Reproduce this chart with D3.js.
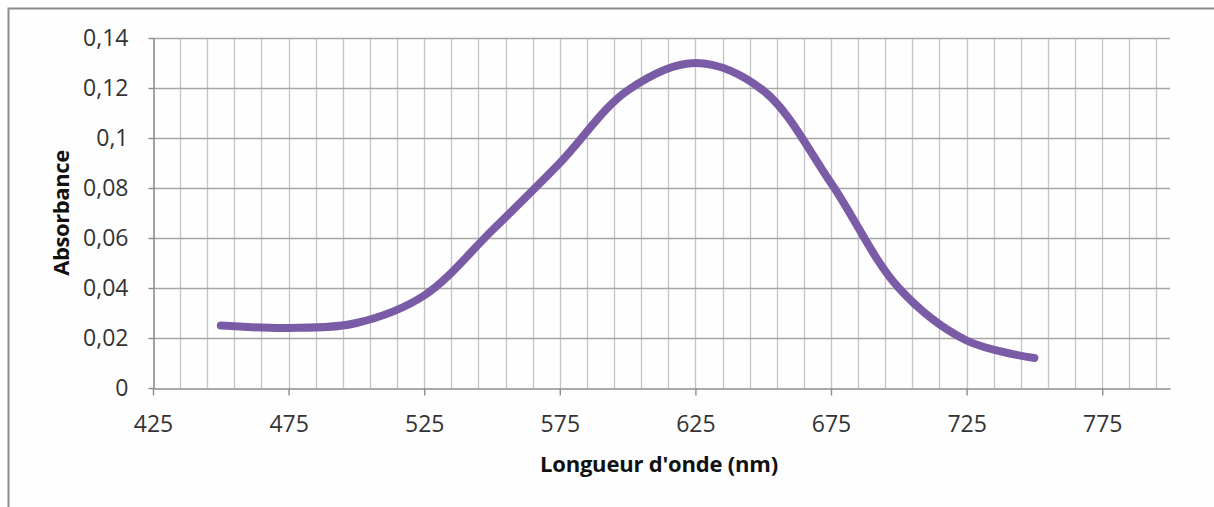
<!DOCTYPE html>
<html><head><meta charset="utf-8">
<script src="https://cdn.jsdelivr.net/npm/d3@7"></script>
<style>
html,body{margin:0;padding:0;background:#fff;}
svg{display:block;}
text{font-family:"Open Sans",Lato,"Liberation Sans",sans-serif;}
</style></head>
<body>
<svg id="c" width="1214" height="507"></svg>
<script>
// Data
const wavelengths = [450, 475, 500, 525, 550, 575, 600, 625, 650, 675, 700, 725, 750];
const absorbance  = [0.025, 0.024, 0.026, 0.037, 0.063, 0.090, 0.119, 0.130, 0.119, 0.082, 0.040, 0.019, 0.012];
const xTickValues = [425, 475, 525, 575, 625, 675, 725, 775];
const yTickValues = [0, 0.02, 0.04, 0.06, 0.08, 0.1, 0.12, 0.14];
const yTickLabels = ["0", "0,02", "0,04", "0,06", "0,08", "0,1", "0,12", "0,14"];
const xTitle = "Longueur d'onde (nm)";
const yTitle = "Absorbance";

const svg = d3.select("#c");
const L = 153, R = 1170, T = 38, B = 388;
const x = d3.scaleLinear().domain([425, 800]).range([L, R]);
const y = d3.scaleLinear().domain([0, 0.14]).range([B, T]);
const FONT = "'Open Sans',Lato,sans-serif";

svg.append("rect").attr("width",1214).attr("height",507).attr("fill","#fefefe");
// outer frame (left and top)
svg.append("path").attr("d","M8.5,507 L8.5,8.5 L1214,8.5").attr("fill","none").attr("stroke","#8c8c8c").attr("stroke-width",2);

// vertical gridlines every 10
const vg = d3.range(435, 800, 10);
svg.append("g").selectAll("line").data(vg).join("line")
  .attr("x1", d => Math.round(x(d)) + 0.5).attr("x2", d => Math.round(x(d)) + 0.5)
  .attr("y1", T).attr("y2", B)
  .attr("stroke", "#c4c4c4").attr("stroke-width", 1.3);

// horizontal gridlines
svg.append("g").selectAll("line").data(yTickValues.slice(1)).join("line")
  .attr("x1", L).attr("x2", R)
  .attr("y1", d => Math.round(y(d)) + 0.5).attr("y2", d => Math.round(y(d)) + 0.5)
  .attr("stroke", "#a6a6a6").attr("stroke-width", 1.4);

// axes
const xAxis = d3.axisBottom(x).tickValues(xTickValues).tickSize(7).tickSizeOuter(0).tickPadding(20).tickFormat(d3.format("d"));
const gx = svg.append("g").attr("transform", `translate(0,${B + 0.5})`).call(xAxis);
gx.select(".domain").attr("stroke", "#8c8c8c").attr("stroke-width", 1.6);
gx.selectAll(".tick line").attr("stroke", "#8c8c8c").attr("stroke-width", 1.4);
gx.selectAll(".tick text").attr("font-size", 23).attr("fill", "#333").attr("font-family", FONT);

const yAxis = d3.axisLeft(y).tickValues(yTickValues).tickSize(5).tickSizeOuter(0).tickPadding(20)
  .tickFormat((d, i) => yTickLabels[i]);
const gy = svg.append("g").attr("transform", `translate(${L + 0.5},0)`).call(yAxis);
gy.select(".domain").attr("stroke", "#8c8c8c").attr("stroke-width", 1.6);
gy.selectAll(".tick line").attr("stroke", "#8c8c8c").attr("stroke-width", 1.4);
gy.selectAll(".tick text").attr("font-size", 23).attr("fill", "#333").attr("font-family", FONT);

// curve
const line = d3.line()
  .x((d, i) => x(wavelengths[i]))
  .y(d => y(d))
  .curve(d3.curveCatmullRom.alpha(0.5));
svg.append("path").datum(absorbance)
  .attr("d", line)
  .attr("fill", "none")
  .attr("stroke", "#7a5ca6")
  .attr("stroke-width", 8)
  .attr("stroke-linecap", "round")
  .attr("stroke-linejoin", "round");

// titles
svg.append("text").attr("x", 659).attr("y", 472)
  .attr("text-anchor", "middle").attr("font-size", 22).attr("font-weight", "bold").attr("fill", "#111")
  .attr("font-family", FONT).attr("letter-spacing", -0.2)
  .text(xTitle);
svg.append("text").attr("transform", `translate(69,${(T + B) / 2}) rotate(-90)`)
  .attr("text-anchor", "middle").attr("font-size", 22).attr("font-weight", "bold").attr("fill", "#111")
  .attr("font-family", FONT).attr("letter-spacing", -0.4)
  .text(yTitle);
</script>
</body></html>
